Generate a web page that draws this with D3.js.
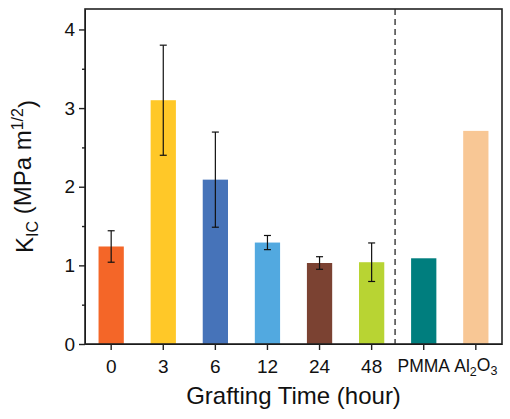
<!DOCTYPE html>
<meta charset="utf-8">
<script src="https://d3js.org/d3.v7.min.js"></script>
<style>
  body { margin: 0; background: #fff; }
  text { font-family: "Liberation Sans", Arial, sans-serif; fill: #111; }
</style>
<body>
<div id="chart"></div>
<script>
// data
var categories = ["0", "3", "6", "12", "24", "48", "PMMA", "Al2O3"];
var values = [1.24, 3.10, 2.09, 1.29, 1.03, 1.04, 1.09, 2.71];
var errors = [0.20, 0.70, 0.605, 0.09, 0.08, 0.245, null, null];
var colors = ["#F46628", "#FFC828", "#4673B9", "#52A9E0", "#7B4232", "#B8D433", "#007E7E", "#F8C795"];
var yTicks = [0, 1, 2, 3, 4];
var yMinor = [0.5, 1.5, 2.5, 3.5];

var W = 510, H = 419;
var margin = {top: 9, right: 8, bottom: 75, left: 85},
    width = W - margin.left - margin.right,
    height = H - margin.top - margin.bottom;

var svg = d3.select("#chart")
  .append("svg")
    .attr("width", W)
    .attr("height", H)
  .append("g")
    .attr("transform", "translate(" + margin.left + "," + margin.top + ")");

var x = d3.scaleBand()
  .domain(categories)
  .range([0, width])
  .paddingInner(0.515)
  .paddingOuter(0.26);

var y = d3.scaleLinear()
  .domain([0, 4.26])
  .range([height, 0]);

// bars
svg.selectAll(".bar")
  .data(categories)
  .enter().append("rect")
    .attr("class", "bar")
    .attr("x", function(d) { return x(d); })
    .attr("width", x.bandwidth())
    .attr("y", function(d, i) { return y(values[i]); })
    .attr("height", function(d, i) { return height - y(values[i]); })
    .attr("fill", function(d, i) { return colors[i]; });

// error bars
var eb = categories.map(function(d, i) { return {c: d, v: values[i], e: errors[i]}; })
  .filter(function(d) { return d.e != null; });
var cap = 3.5;
var g = svg.selectAll(".err").data(eb).enter().append("g").attr("class", "err")
  .attr("stroke", "#111").attr("stroke-width", 1.2);
g.append("line")
  .attr("x1", function(d) { return x(d.c) + x.bandwidth() / 2; })
  .attr("x2", function(d) { return x(d.c) + x.bandwidth() / 2; })
  .attr("y1", function(d) { return y(d.v + d.e); })
  .attr("y2", function(d) { return y(d.v - d.e); });
g.append("line")
  .attr("x1", function(d) { return x(d.c) + x.bandwidth() / 2 - cap; })
  .attr("x2", function(d) { return x(d.c) + x.bandwidth() / 2 + cap; })
  .attr("y1", function(d) { return y(d.v + d.e); })
  .attr("y2", function(d) { return y(d.v + d.e); });
g.append("line")
  .attr("x1", function(d) { return x(d.c) + x.bandwidth() / 2 - cap; })
  .attr("x2", function(d) { return x(d.c) + x.bandwidth() / 2 + cap; })
  .attr("y1", function(d) { return y(d.v - d.e); })
  .attr("y2", function(d) { return y(d.v - d.e); });

// dashed divider between 48 and PMMA
var divX = x("48") + x.bandwidth() / 2 + x.step() * 0.45;
svg.append("line")
  .attr("x1", divX).attr("x2", divX)
  .attr("y1", 0).attr("y2", height)
  .attr("stroke", "#444")
  .attr("stroke-width", 1.5)
  .attr("stroke-dasharray", "6,4");

// axes
var xAxis = svg.append("g")
  .attr("transform", "translate(0," + height + ")")
  .call(d3.axisBottom(x).tickSize(6).tickPadding(10).tickSizeOuter(0));

var yAxis = svg.append("g")
  .call(d3.axisLeft(y).tickValues(yTicks).tickFormat(d3.format("d")).tickSize(6).tickPadding(4).tickSizeOuter(0));

svg.append("g")
  .call(d3.axisLeft(y).tickValues(yMinor).tickFormat("").tickSize(3).tickSizeOuter(0))
  .select(".domain").remove();

[xAxis, yAxis].forEach(function(a) {
  a.selectAll("text").style("font-size", "19px").attr("fill", "#111");
});
svg.selectAll(".tick line").attr("stroke", "#222").attr("stroke-width", 1.4);

// material labels are a little smaller than the digits
xAxis.selectAll(".tick text").filter(function(d) { return d === "PMMA" || d === "Al2O3"; })
  .style("font-size", "17.5px");

// Al2O3 label with subscripts
xAxis.selectAll(".tick text").filter(function(d) { return d === "Al2O3"; })
  .text(null)
  .call(function(t) {
    t.append("tspan").text("Al");
    t.append("tspan").text("2").attr("font-size", "12.5px").attr("dy", "0.3em");
    t.append("tspan").text("O").attr("dy", "-0.3em");
    t.append("tspan").text("3").attr("font-size", "12.5px").attr("dy", "0.3em");
  });

// frame
svg.append("rect")
  .attr("x", 0).attr("y", 0)
  .attr("width", width).attr("height", height)
  .attr("fill", "none")
  .attr("stroke", "#222")
  .attr("stroke-width", 1.6);

// axis titles
svg.append("text")
  .attr("x", width / 2)
  .attr("y", height + 60)
  .attr("text-anchor", "middle")
  .style("font-size", "24px")
  .text("Grafting Time (hour)");

var yt = svg.append("text")
  .attr("transform", "translate(" + (33 - margin.left) + "," + (height / 2) + ") rotate(-90)")
  .attr("text-anchor", "middle")
  .style("font-size", "24px");
yt.append("tspan").text("K");
yt.append("tspan").text("IC").attr("font-size", "16px").attr("dy", "0.3em");
yt.append("tspan").text(" (MPa m").attr("dy", "-0.3em");
yt.append("tspan").text("1/2").attr("font-size", "16px").attr("dy", "-0.5em");
yt.append("tspan").text(")").attr("dy", "0.5em");
</script>
</body>
